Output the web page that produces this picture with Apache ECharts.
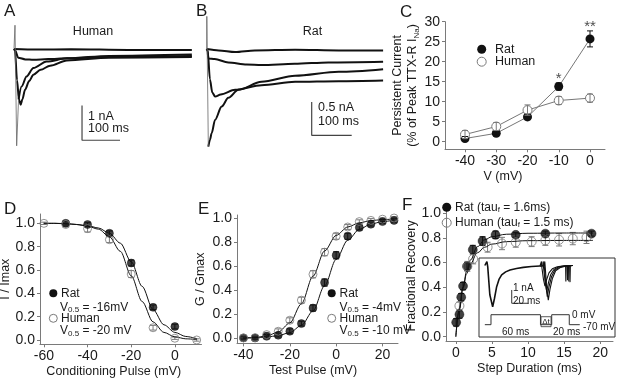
<!DOCTYPE html>
<html>
<head>
<meta charset="utf-8">
<script src="https://cdn.jsdelivr.net/npm/echarts@6/dist/echarts.min.js"></script>
<style>
html, body { margin: 0; padding: 0; background: #fff; }
#main { width: 617px; height: 379px; }
</style>
</head>
<body>
<div id="main"></div>
<script>
// ---------- data ----------
// A: human TTX-R currents, [ms, nA]
var humanTrace1 = [[0,0],[60,-0.02],[150,-0.01],[300,-0.03],[468,-0.03]];
var humanTrace2 = [[0,0],[2.6,-0.03],[11,-0.25],[30,-0.3],[51,-0.31],[90,-0.29],[139,-0.27],[250,-0.23],[468,-0.2]];
var humanTrace3 = [[12,-1.45],[20,-1.08],[33,-0.79],[51,-0.55],[86,-0.36],[140,-0.27],[250,-0.2],[468,-0.16]];
var humanTrace4 = [[0,0],[2.6,-0.05],[8,-0.9],[13,-1.45],[17.6,-1.6],[22,-1.45],[29,-1.17],[40,-0.92],[51,-0.74],[70,-0.6],[95,-0.48],[139,-0.33],[250,-0.25],[468,-0.23]];
var humanPeak = [[0,0],[2.2,0],[2.6,0.68],[7,-2.78],[12,-1.45]];
var humanScale = [[179,-1.62],[179,-2.62],[279,-2.62]];   // 1 nA, 100 ms

// B: rat TTX-R currents, [ms, nA]
var ratTrace1 = [[0,0],[30,-0.02],[71,-0.045],[120,-0.02],[221,-0.01],[330,-0.02],[441,-0.02]];
var ratTrace2 = [[0,0],[2,-0.02],[4,-0.14],[20,-0.15],[54,-0.2],[100,-0.23],[137,-0.24],[220,-0.22],[304,-0.2],[441,-0.19]];
var ratTrace3 = [[0,0],[2.5,-0.02],[8,-0.45],[14,-0.65],[21,-0.71],[35,-0.68],[71,-0.61],[137,-0.54],[221,-0.49],[330,-0.48],[441,-0.47]];
var ratTrace4 = [[4.1,-1.46],[8,-1.36],[12.4,-1.26],[20.75,-1.06],[37.4,-0.86],[54,-0.73],[79,-0.61],[137,-0.49],[221,-0.4],[330,-0.34],[441,-0.3]];
var ratPeak = [[0,0],[0.3,0.49],[4.1,-1.46]];
var ratScale = [[262.5,-0.79],[262.5,-1.29],[362.5,-1.29]];   // 0.5 nA, 100 ms

// C: persistent current (% of peak)
var cVolt = [-40, -30, -20, -10, 0];
var cRat = [0.8, 2.1, 6.2, 13.8, 25.7];
var cRatErr = [0.5, 0.5, 0.7, 0.9, 2.0];
var cHuman = [1.8, 3.8, 7.9, 10.3, 10.9];
var cHumanErr = [1.0, 1.0, 1.3, 1.0, 1.0];
var cSigVolt = [-10, 0];
var cSigY = [15.8, 28.6];
var cSigText = ['*', '**'];

// D: steady-state inactivation
var dRatV = [-50, -40, -30, -20, -10, 0];
var dRat = [1.0, 0.99, 0.915, 0.66, 0.28, 0.115];
var dRatErr = [0.015, 0.015, 0.02, 0.025, 0.02, 0.02];
var dHumanV = [-60, -50, -40, -30, -20, -10, 0, 10];
var dHuman = [1.0, 0.99, 0.955, 0.86, 0.565, 0.105, 0.015, 0.0];
var dHumanErr = [0.01, 0.02, 0.03, 0.025, 0.03, 0.02, 0.01, 0.01];
var dFitV = [-60, -55, -50, -45, -40, -35, -30, -25, -20, -15, -10, -5, 0, 5, 10];
var dRatFit = [1.0, 1.0, 0.998, 0.99, 0.98, 0.96, 0.915, 0.83, 0.67, 0.46, 0.26, 0.13, 0.065, 0.03, 0.012];
var dHumanFit = [1.0, 1.0, 0.996, 0.99, 0.975, 0.95, 0.885, 0.76, 0.55, 0.33, 0.155, 0.065, 0.027, 0.01, 0.004];

// E: activation
var eVolt = [-40, -35, -30, -25, -20, -15, -10, -5, 0, 5, 10, 15, 20, 25];
var eRat = [0.006, 0.005, 0.019, 0.028, 0.061, 0.125, 0.255, 0.467, 0.694, 0.853, 0.925, 0.953, 0.975, 0.985];
var eRatErr = [0.01, 0.01, 0.015, 0.015, 0.02, 0.02, 0.025, 0.03, 0.03, 0.025, 0.02, 0.015, 0.015, 0.015];
var eHuman = [0.006, 0.008, 0.033, 0.061, 0.153, 0.32, 0.536, 0.72, 0.853, 0.93, 0.975, 0.985, 0.995, 1.005];
var eHumanErr = [0.01, 0.01, 0.015, 0.02, 0.02, 0.025, 0.03, 0.03, 0.025, 0.02, 0.015, 0.015, 0.01, 0.01];
var eRatFit = [0.003, 0.008, 0.013, 0.025, 0.05, 0.11, 0.23, 0.44, 0.66, 0.82, 0.91, 0.955, 0.975, 0.987];
var eHumanFit = [0.004, 0.009, 0.022, 0.055, 0.13, 0.29, 0.52, 0.73, 0.86, 0.93, 0.965, 0.983, 0.992, 0.996];

// F: recovery from inactivation
var fRatT = [0.05, 0.5, 0.75, 1.0, 1.55, 2.35, 3.7, 5.5, 8.3, 12.4, 18.8];
var fRat = [0.116, 0.18, 0.32, 0.41, 0.57, 0.705, 0.775, 0.825, 0.825, 0.835, 0.835];
var fRatErr = [0.03, 0.03, 0.03, 0.03, 0.03, 0.035, 0.035, 0.03, 0.02, 0.02, 0.02];
var fHumanT = [0.5, 1.6, 2.4, 4.4, 6.4, 8.3, 10.5, 12.4, 14.3, 16.2, 18.1];
var fHuman = [0.25, 0.57, 0.63, 0.725, 0.755, 0.765, 0.77, 0.78, 0.785, 0.795, 0.805];
var fHumanErr = [0.03, 0.04, 0.04, 0.04, 0.05, 0.04, 0.04, 0.04, 0.05, 0.05, 0.05];
var fFitT = [0, 0.5, 1, 1.5, 2, 3, 4, 5, 7, 10, 15, 19];
var fRatFit = [0.0, 0.22, 0.4, 0.53, 0.62, 0.73, 0.785, 0.81, 0.83, 0.838, 0.84, 0.84];
var fHumanFit = [0.0, 0.23, 0.4, 0.51, 0.59, 0.68, 0.725, 0.75, 0.77, 0.778, 0.78, 0.78];

// F inset: two-pulse protocol traces [ms, nA]
var insetFirst = [[7,0],[9.5,0.3],[10.5,-0.1],[13,-2.2],[16.4,-3.1],[18.5,-2.5],[21.2,-1.59],[24,-1.05],[27.2,-0.71],[32,-0.48],[37.2,-0.34],[45,-0.22],[53.2,-0.14],[63,-0.08],[73.2,-0.04]];
var insetSecond1 = [[73.2,-0.04],[75,0.3],[75.6,-0.2],[77.3,-1.0],[79.2,-1.55],[81,-1.1],[84,-0.55],[88,-0.25],[94,-0.1],[100,-0.04],[104,-0.02],[104.3,-1.2],[104.7,-0.02],[112.8,0]];
var insetSecond2 = [[73.2,-0.04],[76.5,-0.02],[77,0.3],[77.6,-0.2],[79.4,-1.2],[81.3,-1.95],[83.2,-1.35],[86,-0.7],[90,-0.3],[96,-0.1],[102,-0.04],[106,-0.02],[106.3,-1.1],[106.7,-0.02],[112.8,0]];
var insetSecond3 = [[73.2,-0.04],[77.5,-0.02],[78,0.3],[78.6,-0.2],[80.3,-1.5],[82,-2.35],[84,-1.6],[87,-0.85],[91,-0.35],[97,-0.12],[103,-0.04],[107.5,-0.02],[107.8,-1.2],[108.2,-0.02],[112.8,0]];
var insetSecond4 = [[73.2,-0.04],[78.5,-0.02],[79,0.3],[79.6,-0.2],[81.3,-1.7],[83.2,-2.6],[85.2,-1.8],[88,-1.0],[92,-0.4],[98,-0.14],[104,-0.05],[109,-0.02],[109.3,-1.25],[109.7,-0.02],[112.8,0]];
var insetProtocol = [[7,-4.45],[14.4,-4.45],[14.4,-3.7],[73.8,-3.7],[73.8,-4.45],[87.3,-4.45],[87.3,-3.7],[108.4,-3.7],[108.4,-4.45],[121,-4.45]];
var insetScale = [[39.3,-1.84],[39.3,-2.84],[59.3,-2.84]];   // 1 nA, 20 ms
var insetGap = [[74.5,-3.85],[86.5,-4.6]];

// ---------- helpers ----------
var FONT = '"Liberation Sans", Arial, sans-serif';
var axisColor = '#7a7a7a';
var textColor = '#1a1a1a';
var ratColor = '#111';
var humanColor = '#7a7a7a';

function zip(xs, ys) { return xs.map(function (x, i) { return [x, ys[i]]; }); }
function zip3(xs, ys, es) { return xs.map(function (x, i) { return [x, ys[i], es[i]]; }); }
function one(v) { return v.toFixed(1); }

function hiddenAxis(g, min, max) {
    return { type: 'value', gridIndex: g, min: min, max: max, show: false };
}
function shownAxis(g, min, max, ticks, fmt, fontSize) {
    return {
        type: 'value', gridIndex: g, min: min, max: max,
        splitLine: { show: false },
        axisLine: { show: true, onZero: false, lineStyle: { color: axisColor, width: 1 } },
        axisTick: { show: true, length: 3, customValues: ticks, lineStyle: { color: axisColor } },
        axisLabel: { customValues: ticks, color: textColor, fontSize: fontSize || 14, fontFamily: FONT, margin: 5, formatter: fmt },
        nameTextStyle: { color: textColor, fontSize: 12.5, fontFamily: FONT }
    };
}
function named(ax, name, gap, pad) {
    ax.name = name; ax.nameLocation = 'middle'; ax.nameGap = gap;
    if (pad) ax.nameTextStyle.padding = pad;
    return ax;
}

function errorBars(params, api) {
    var x = api.value(0), y = api.value(1), e = api.value(2);
    var hi = api.coord([x, y + e]), lo = api.coord([x, y - e]);
    var w = 3;
    var st = { stroke: api.visual('color'), lineWidth: 1 };
    return { type: 'group', children: [
        { type: 'line', shape: { x1: hi[0], y1: hi[1], x2: lo[0], y2: lo[1] }, style: st },
        { type: 'line', shape: { x1: hi[0] - w, y1: hi[1], x2: hi[0] + w, y2: hi[1] }, style: st },
        { type: 'line', shape: { x1: lo[0] - w, y1: lo[1], x2: lo[0] + w, y2: lo[1] }, style: st }
    ] };
}

function trace(g, data, color, width, smooth) {
    return { type: 'line', xAxisIndex: g, yAxisIndex: g, data: data, showSymbol: false, symbol: 'none',
        smooth: smooth || false, smoothMonotone: 'x',
        lineStyle: { color: color, width: width } };
}
function errSeries(g, data, color, z) {
    return { type: 'custom', xAxisIndex: g, yAxisIndex: g, data: data, renderItem: errorBars,
        itemStyle: { color: color }, encode: { x: 0, y: 1 }, z: z || 3 };
}
function points(g, data, filled, size) {
    return { type: 'scatter', xAxisIndex: g, yAxisIndex: g, data: data, symbolSize: size, z: 4,
        itemStyle: filled ? { color: ratColor, borderColor: '#000', borderWidth: 0.5 }
                          : { color: 'rgba(255,255,255,0)', borderColor: humanColor, borderWidth: 1 } };
}

var subRich = {
    s: { fontSize: 8, fontFamily: FONT, fill: textColor, color: textColor, verticalAlign: 'bottom', padding: [5, 0, 0, 0] }
};
function label(x, y, text, size, align) {
    return { type: 'text', x: x, y: y, z: 10,
        style: { text: text, fontSize: size, fontFamily: FONT, fill: textColor,
                 align: align || 'left', verticalAlign: 'middle', rich: subRich } };
}
function dot(x, y, r, filled) {
    return { type: 'circle', z: 10, shape: { cx: x, cy: y, r: r },
        style: filled ? { fill: ratColor } : { fill: 'none', stroke: humanColor, lineWidth: 1 } };
}

// ---------- chart ----------
var chart = echarts.init(document.getElementById('main'));

var grids = [
    { left: 14, top: 20, width: 178, height: 130 },        // A
    { left: 206.7, top: 15, width: 176.8, height: 135 },   // B
    { left: 445, top: 21.7, width: 160, height: 127.6 },   // C
    { left: 40, top: 214, width: 161.5, height: 130.3 },   // D
    { left: 237, top: 215, width: 161, height: 128.4 },    // E
    { left: 446, top: 210.8, width: 167, height: 130.2 },  // F
    { left: 479, top: 258, width: 136, height: 79, show: true, borderColor: '#333', borderWidth: 1, backgroundColor: '#fff' } // F inset
];
grids.forEach(function (g) { g.containLabel = false; g.outerBoundsMode = 'none'; });

var xAxes = [
    hiddenAxis(0, 0, 468.4),
    hiddenAxis(1, 0, 442),
    named(shownAxis(2, -46.4, 4.8, [-40, -30, -20, -10, 0], String, 14), 'V (mV)', 21, [0, 44, 0, 0]),
    named(shownAxis(3, -61.8, 12.2, [-60, -40, -20, 0], String), 'Conditioning Pulse (mV)', 21, [0, 14, 0, 0]),
    named(shownAxis(4, -42.8, 26.7, [-40, -20, 0, 20], String), 'Test Pulse (mV)', 21, [0, 9, 0, 0]),
    named(shownAxis(5, -1.36, 21.77, [0, 5, 10, 15, 20], String), 'Step Duration (ms)', 21),
    hiddenAxis(6, 0, 163.3)
];
var yTicks01 = [0, 0.2, 0.4, 0.6, 0.8, 1.0];
var cY = shownAxis(2, -1.9, 30, [0, 5, 10, 15, 20, 25, 30], String, 14);
named(cY, 'Persistent Current\n(% of Peak TTX-R I{sub|Na})', 22);
cY.nameTextStyle.lineHeight = 15;
cY.nameTextStyle.rich = { sub: { fontSize: 8, fontFamily: FONT, color: textColor, verticalAlign: 'bottom', padding: [6, 0, 0, 0] } };
var yAxes = [
    hiddenAxis(0, -2.9, 0.83),
    hiddenAxis(1, -1.51, 0.51),
    cY,
    named(shownAxis(3, -0.037, 1.08, yTicks01, one), 'I / Imax', 24),
    named(shownAxis(4, -0.04, 1.03, yTicks01, one), 'G / Gmax', 30, [12, 0, 0, 0]),
    named(shownAxis(5, -0.035, 1.02, yTicks01, one), 'Fractional Recovery', 23),
    hiddenAxis(6, -5.376, 0.564)
];

var series = [
    // A
    trace(0, humanTrace1, '#111', 2, 0.3),
    trace(0, humanTrace2, '#111', 2, 0.3),
    trace(0, humanTrace3, '#111', 2, 0.3),
    trace(0, humanTrace4, '#111', 2, 0.3),
    trace(0, humanPeak, '#666', 0.8),
    trace(0, humanScale, '#444', 1.2),
    // B
    trace(1, ratTrace1, '#111', 2, 0.3),
    trace(1, ratTrace2, '#111', 2, 0.3),
    trace(1, ratTrace3, '#111', 2, 0.3),
    trace(1, ratTrace4, '#111', 2, 0.3),
    trace(1, ratPeak, '#666', 0.8),
    trace(1, ratScale, '#444', 1.2),
    // C
    { type: 'line', xAxisIndex: 2, yAxisIndex: 2, data: zip(cVolt, cRat), symbol: 'circle', symbolSize: 9,
      lineStyle: { color: '#777', width: 1 }, itemStyle: { color: ratColor }, z: 2 },
    { type: 'line', xAxisIndex: 2, yAxisIndex: 2, data: zip(cVolt, cHuman), symbol: 'circle', symbolSize: 9,
      lineStyle: { color: '#777', width: 1 }, itemStyle: { color: '#fff', borderColor: humanColor, borderWidth: 1 }, z: 2 },
    errSeries(2, zip3(cVolt, cRat, cRatErr), ratColor, 3),
    errSeries(2, zip3(cVolt, cHuman, cHumanErr), humanColor, 3),
    { type: 'scatter', xAxisIndex: 2, yAxisIndex: 2, data: zip(cSigVolt, cSigY), symbolSize: 1,
      itemStyle: { color: 'rgba(0,0,0,0)' },
      label: { show: true, position: 'inside', color: textColor, fontSize: 15, fontFamily: FONT,
               formatter: function (p) { return cSigText[p.dataIndex]; } } },
    // D
    trace(3, zip(dFitV, dRatFit), '#111', 1, 0.3),
    trace(3, zip(dFitV, dHumanFit), '#111', 1, 0.3),
    errSeries(3, zip3(dRatV, dRat, dRatErr), ratColor),
    errSeries(3, zip3(dHumanV, dHuman, dHumanErr), humanColor),
    points(3, zip(dRatV, dRat), true, 8),
    points(3, zip(dHumanV, dHuman), false, 8),
    // E
    trace(4, zip(eVolt, eRatFit), '#111', 1, 0.3),
    trace(4, zip(eVolt, eHumanFit), '#111', 1, 0.3),
    errSeries(4, zip3(eVolt, eRat, eRatErr), ratColor),
    errSeries(4, zip3(eVolt, eHuman, eHumanErr), humanColor),
    points(4, zip(eVolt, eRat), true, 8),
    points(4, zip(eVolt, eHuman), false, 8),
    // F
    trace(5, zip(fFitT, fRatFit), '#111', 1, 0.4),
    trace(5, zip(fFitT, fHumanFit), '#111', 1, 0.4),
    errSeries(5, zip3(fRatT, fRat, fRatErr), ratColor),
    errSeries(5, zip3(fHumanT, fHuman, fHumanErr), humanColor),
    points(5, zip(fRatT, fRat), true, 9),
    points(5, zip(fHumanT, fHuman), false, 9),
    // F inset
    trace(6, insetFirst, '#111', 1.6),
    trace(6, insetSecond1, '#111', 1.1),
    trace(6, insetSecond2, '#111', 1.1),
    trace(6, insetSecond3, '#111', 1.1),
    trace(6, insetSecond4, '#111', 1.1),
    trace(6, insetScale, '#333', 1),
    (function () {
        var s = trace(6, insetProtocol, '#333', 1);
        s.markArea = { silent: true,
            itemStyle: { color: 'rgba(0,0,0,0)', borderColor: '#333', borderWidth: 0.8 },
            label: { show: true, position: 'inside', formatter: '\u0394t', fontSize: 8, fontFamily: FONT, color: textColor },
            data: [[{ coord: insetGap[0] }, { coord: insetGap[1] }]] };
        return s;
    })()
];

var graphics = [
    label(4, 11, 'A', 17), label(196, 11, 'B', 17), label(400, 12, 'C', 17),
    label(4, 209, 'D', 17), label(198, 209, 'E', 17), label(402, 205, 'F', 17),
    label(93, 32, 'Human', 12.5, 'center'),
    label(88, 117, '1 nA', 12.5), label(88, 129, '100 ms', 12.5),
    label(312.5, 32, 'Rat', 12.5, 'center'),
    label(318, 108, '0.5 nA', 12.5), label(318, 122, '100 ms', 12.5),
    // C legend
    dot(481.7, 49.3, 4.5, true), label(495, 49.3, 'Rat', 12.5),
    dot(481.7, 61.7, 4.5, false), label(495, 61.7, 'Human', 12.5),
    // D legend
    dot(53.3, 293.3, 4, true), label(61, 293.3, 'Rat', 12),
    label(60, 307.7, 'V{s|0.5} = -16mV', 12),
    dot(53.3, 318.3, 4, false), label(61, 318.3, 'Human', 12),
    label(60, 331, 'V{s|0.5} = -20 mV', 12),
    // E legend
    dot(331.7, 293.3, 4, true), label(339.5, 293.3, 'Rat', 12),
    label(339.5, 307.7, 'V{s|0.5} = -4mV', 12),
    dot(331.7, 318.3, 4, false), label(339.5, 318.3, 'Human', 12),
    label(339.5, 331, 'V{s|0.5} = -10 mV', 12),
    // F legend
    dot(446.7, 207.3, 4.5, true), label(455, 207.3, 'Rat (tau{s|f} = 1.6ms)', 12),
    dot(446.7, 222.7, 4.5, false), label(455, 222.7, 'Human (tau{s|f} = 1.5 ms)', 12),
    // inset labels
    label(513, 288, '1 nA', 10), label(513, 301, '20 ms', 10),
    label(572, 315, '0 mV', 10), label(583, 327.3, '-70 mV', 10),
    label(502, 332, '60 ms', 10), label(553, 332, '20 ms', 10)
];

var option = {
    animation: false,
    backgroundColor: '#fff',
    textStyle: { fontFamily: FONT },
    grid: grids,
    xAxis: xAxes,
    yAxis: yAxes,
    series: series,
    graphic: graphics
};
chart.setOption(option);
</script>
</body>
</html>
